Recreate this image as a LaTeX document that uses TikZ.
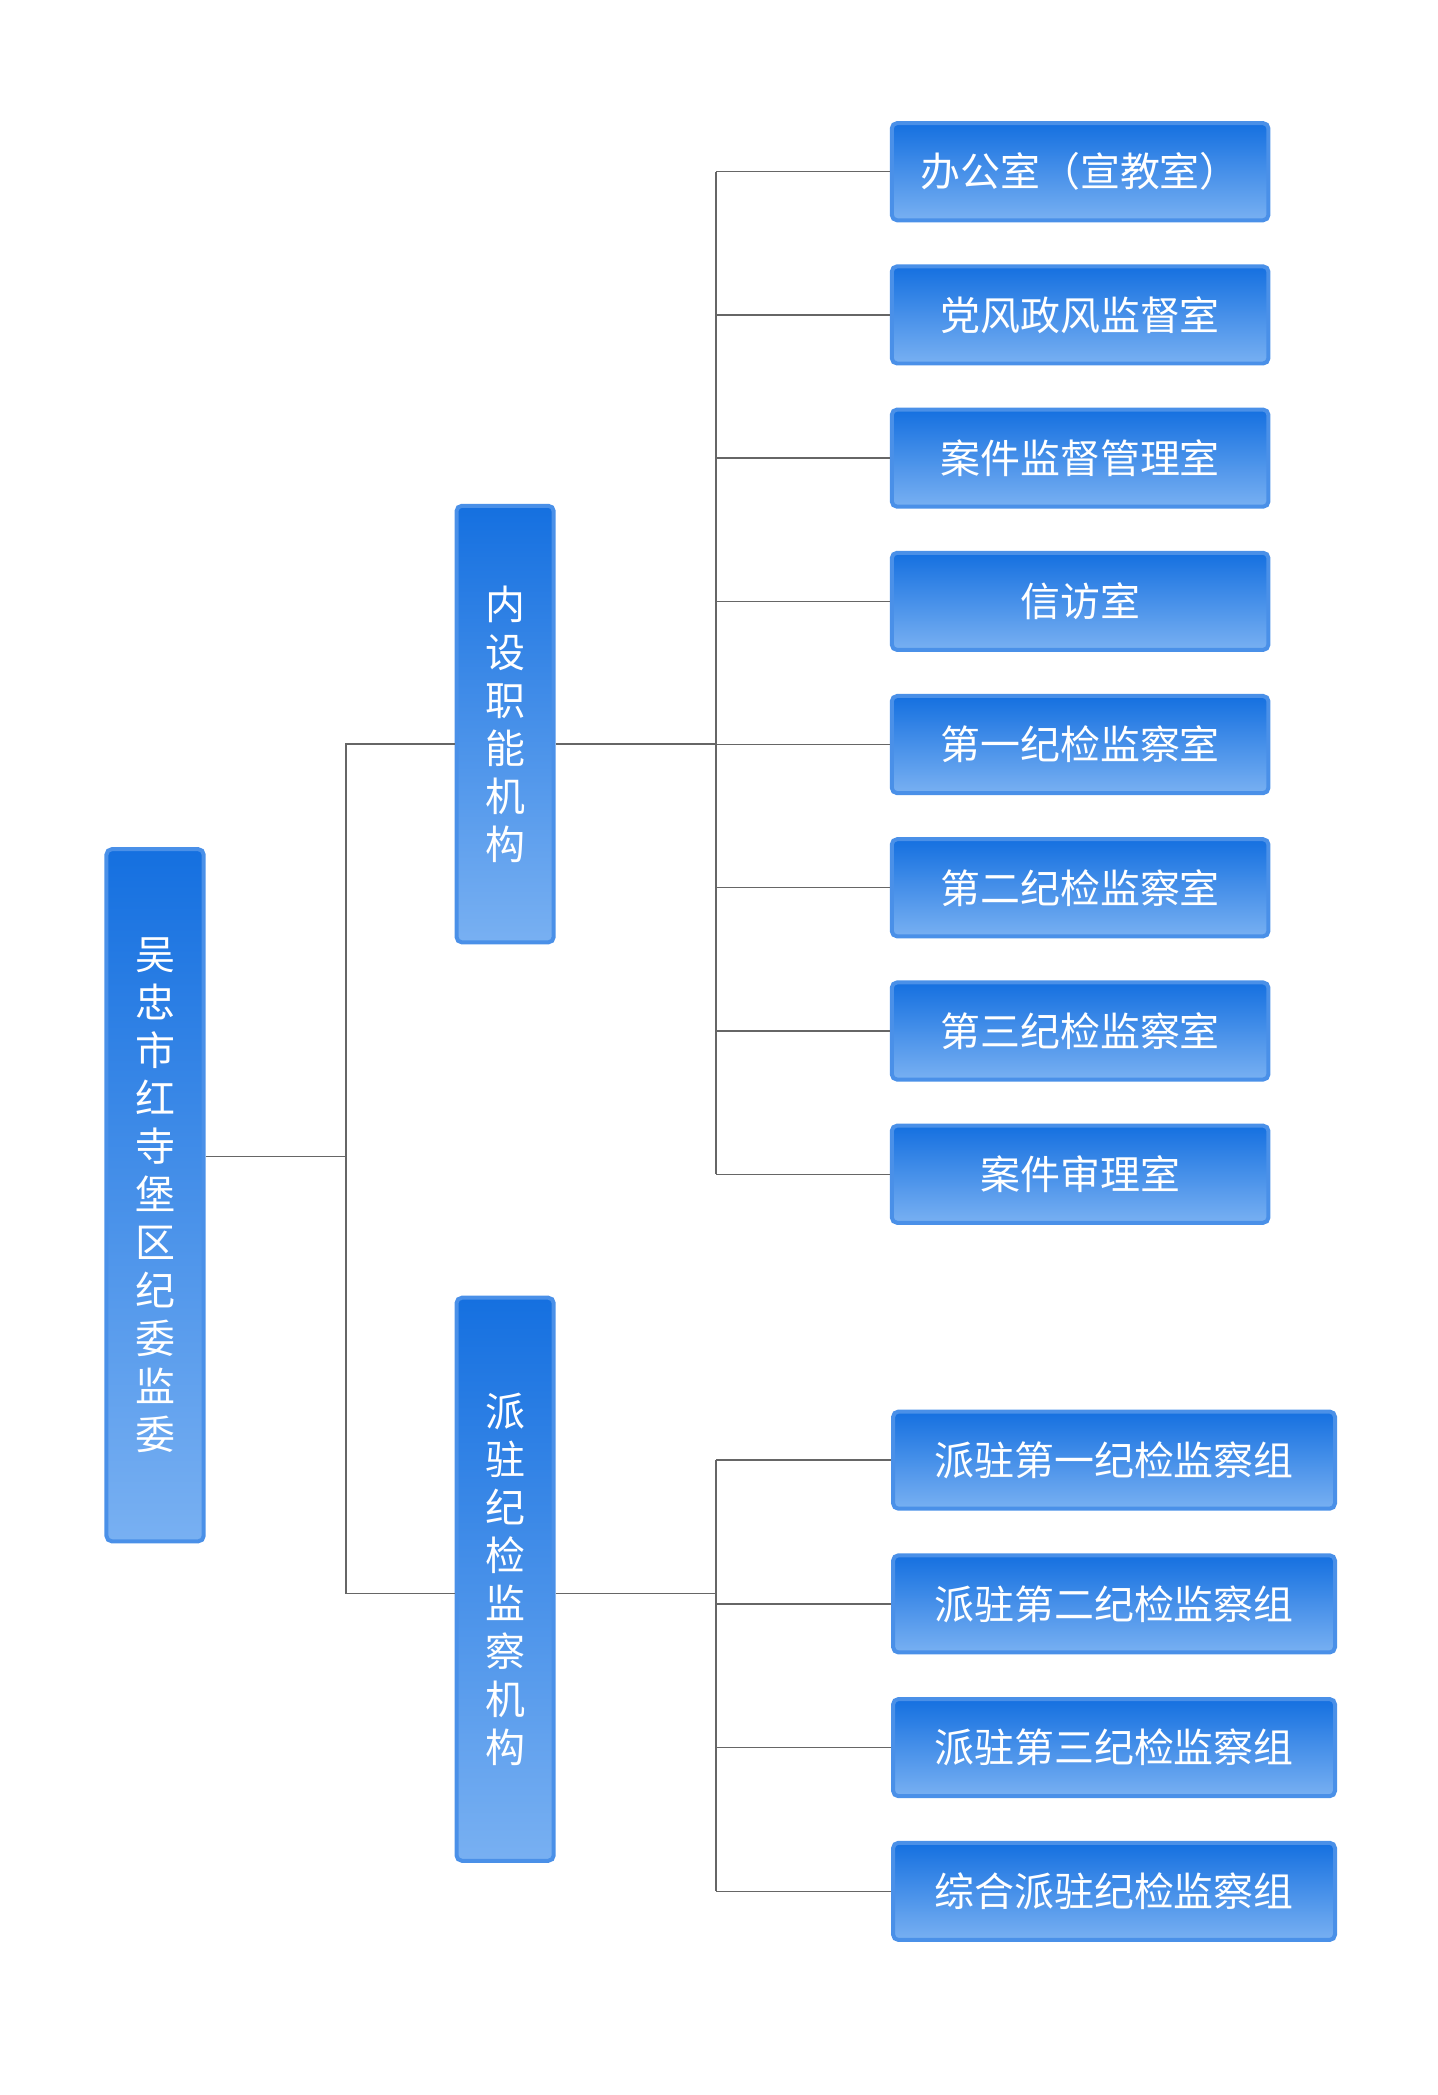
\documentclass[tikz,border=0pt]{standalone}
\usepackage{fontspec}
\setmainfont{Noto Sans CJK SC}
\usetikzlibrary{positioning,calc}
\definecolor{boxtop}{HTML}{1570E0}
\definecolor{boxbot}{HTML}{78B0F2}
\definecolor{boxrim}{HTML}{4A90E8}
\tikzset{
  unit/.style={draw=boxrim, line width=1.5pt, rounded corners=2pt, top color=boxtop, bottom color=boxbot, text=white, align=center},
  hbox/.style={unit, minimum height=36.5pt, font=\fontsize{15}{18}\selectfont},
  vbox/.style={unit, minimum width=36.5pt, inner sep=0pt, font=\fontsize{15}{18}\selectfont},
  link/.style={draw=gray!80!black, line width=0.5pt}
}
\begin{document}
\begin{tikzpicture}[x=0.5pt,y=-0.5pt]
\useasboundingbox (0,0) rectangle (1080,1574);
% Levels
\node[vbox, minimum height=260pt] (root) at (116.5,898) {吴\\忠\\市\\红\\寺\\堡\\区\\纪\\委\\监\\委};
\node[vbox, minimum height=164pt] (inner) at (379.5,544) {内\\设\\职\\能\\机\\构};
\node[vbox, minimum height=211.5pt] (dispatch) at (379.5,1186.5) {派\\驻\\纪\\检\\监\\察\\机\\构};
% Offices
\foreach \txt [count=\i] in {办公室（宣教室）,党风政风监督室,案件监督管理室,信访室,第一纪检监察室,第二纪检监察室,第三纪检监察室,案件审理室}
  \node[hbox, minimum width=141.5pt] (office\i) at (811.5,{129+(\i-1)*107.6}) {\txt};
\foreach \txt [count=\i] in {派驻第一纪检监察组,派驻第二纪检监察组,派驻第三纪检监察组,综合派驻纪检监察组}
  \node[hbox, minimum width=166pt] (group\i) at (837,{1097+(\i-1)*108}) {\txt};
% Connectors
\coordinate (rootbus) at (260,869);
\draw[link] (root.east |- rootbus) -- (rootbus);
\draw[link] (inner.west |- 0,559) -| (rootbus) |- (dispatch.west |- 0,1197);
\coordinate (innerbus) at (538,559);
\draw[link] (inner.east |- innerbus) -- (innerbus);
\draw[link] (innerbus |- office1.west) -- (innerbus |- office8.west);
\foreach \i in {1,...,8} \draw[link] (innerbus |- office\i.west) -- (office\i.west);
\coordinate (groupbus) at (538,1197);
\draw[link] (dispatch.east |- groupbus) -- (groupbus);
\draw[link] (groupbus |- group1.west) -- (groupbus |- group4.west);
\foreach \i in {1,...,4} \draw[link] (groupbus |- group\i.west) -- (group\i.west);
\end{tikzpicture}
\end{document}
